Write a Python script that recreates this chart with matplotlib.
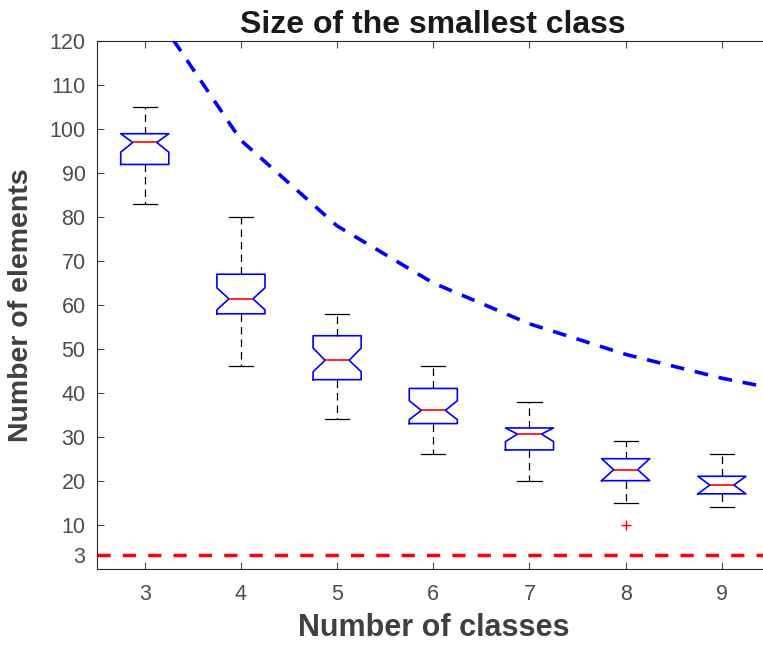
import matplotlib
matplotlib.use("Agg")
import matplotlib.pyplot as plt

plt.rcParams['font.family'] = ['Liberation Sans', 'DejaVu Sans']

# Number of classes and box statistics of the smallest class size
classes = [3, 4, 5, 6, 7, 8, 9]
whisker_low = [83, 46, 34, 26, 20, 15, 14]
q1 = [92, 58, 43, 33, 27, 20, 17]
notch_low = [94.8, 58.9, 44.8, 33.9, 28.9, 20.0, 17.0]
median = [97, 61.4, 47.4, 36, 30.6, 22.5, 19]
notch_high = [99, 63.9, 50.2, 38.2, 32.0, 25.0, 21.0]
q3 = [99, 67, 53, 41, 32, 25, 21]
whisker_high = [105, 80, 58, 46, 38, 29, 26]
outliers = [[], [], [], [], [], [10], []]

# Upper reference curve (balanced class size) and lower limit
curve_k = [2, 3, 4, 5, 6, 7, 8, 9, 10]
curve_val = [195, 130, 97.5, 78, 65, 55.71, 48.75, 43.33, 39]
lower_limit = 3

y_ticks = [3, 10, 20, 30, 40, 50, 60, 70, 80, 90, 100, 110, 120]

fig = plt.figure(figsize=(7.63, 6.45), dpi=100)
ax = fig.add_axes([0.1267, 0.1186, 0.8824, 0.8171])

stats = []
for i in range(len(classes)):
    stats.append(dict(med=median[i], q1=q1[i], q3=q3[i],
                      whislo=whisker_low[i], whishi=whisker_high[i],
                      cilo=notch_low[i], cihi=notch_high[i],
                      fliers=outliers[i]))

ax.bxp(stats, positions=classes, widths=0.5, shownotches=True,
       boxprops=dict(color='#0000ff', linewidth=1.2),
       medianprops=dict(color='#ff0000', linewidth=1.2),
       whiskerprops=dict(color='black', linewidth=0.9, linestyle=(0, (6, 4))),
       capprops=dict(color='black', linewidth=0.9),
       flierprops=dict(marker='+', markeredgecolor='#ff0000', markersize=7,
                       markeredgewidth=1.0, linestyle='none'),
       manage_ticks=False)

ax.plot(curve_k, curve_val, color='#0000ff', linewidth=2.6,
        dashes=(3.8, 3.0), dash_capstyle='butt', zorder=3)
ax.axhline(lower_limit, color='#ff0000', linewidth=2.5,
           dashes=(3.8, 3.5), dash_capstyle='butt', zorder=3)

ax.set_xlim(2.5, 9.5)
ax.set_ylim(0, 120)
ax.set_xticks(classes)
ax.set_xticklabels([str(c) for c in classes])
ax.set_yticks(y_ticks)
ax.set_yticklabels([str(t) for t in y_ticks])

ax.tick_params(direction='in', length=5, width=0.8, colors='#4d4d4d',
               labelsize=15.5, top=True, right=True)
ax.tick_params(axis='x', pad=11)
ax.tick_params(axis='y', pad=8)
for s in ax.spines.values():
    s.set_color('#262626')
    s.set_linewidth(0.8)

ax.set_title('Size of the smallest class', fontsize=23, fontweight='bold',
             color='#1a1a1a', pad=6)
ax.set_xlabel('Number of classes', fontsize=22, fontweight='bold',
              color='#404040', labelpad=6)
ax.set_ylabel('Number of elements', fontsize=20.5, fontweight='bold',
              color='#404040', labelpad=11)

fig.savefig('out.png', dpi=100)
